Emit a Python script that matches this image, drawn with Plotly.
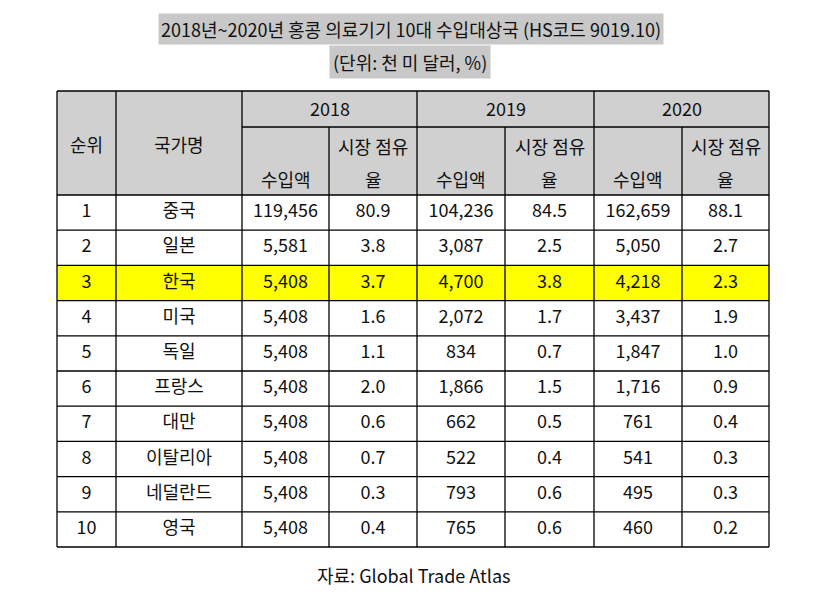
import plotly.graph_objects as go

# ---- data ----
ranks = ["1", "2", "3", "4", "5", "6", "7", "8", "9", "10"]
countries = ["중국", "일본", "한국", "미국", "독일", "프랑스", "대만", "이탈리아", "네덜란드", "영국"]
imp_2018 = [119456, 5581, 5408, 5408, 5408, 5408, 5408, 5408, 5408, 5408]
share_2018 = [80.9, 3.8, 3.7, 1.6, 1.1, 2.0, 0.6, 0.7, 0.3, 0.4]
imp_2019 = [104236, 3087, 4700, 2072, 834, 1866, 662, 522, 793, 765]
share_2019 = [84.5, 2.5, 3.8, 1.7, 0.7, 1.5, 0.5, 0.4, 0.6, 0.6]
imp_2020 = [162659, 5050, 4218, 3437, 1847, 1716, 761, 541, 495, 460]
share_2020 = [88.1, 2.7, 2.3, 1.9, 1.0, 0.9, 0.4, 0.3, 0.3, 0.2]
years = ["2018", "2019", "2020"]
title_text = "2018년~2020년 홍콩 의료기기 10대 수입대상국 (HS코드 9019.10)"
unit_text = "(단위: 천 미 달러, %)"
source_text = "자료: Global Trade Atlas"
highlight_row = 2

# ---- layout geometry (page pixels) ----
W, H = 821, 603
OFF = 8  # default page margin of the html body
col_x = [57, 116, 242, 329, 417, 505, 594, 682, 769]
top, year_bottom, head_bottom, bottom = 91, 127, 195, 547
n = len(ranks)
row_h = (bottom - head_bottom) / n
row_y = [head_bottom + i * row_h for i in range(n + 1)]

FONT = "Noto Sans CJK KR"
FS = 18
TXT = "#111111"
HEAD_BG = "#d0d0d0"
LINE = "#000000"

shapes = []
shapes.append(dict(type="rect", x0=col_x[0], x1=col_x[-1], y0=top, y1=head_bottom,
                   fillcolor=HEAD_BG, line=dict(width=0), layer="below"))
shapes.append(dict(type="rect", x0=col_x[0], x1=col_x[-1], y0=row_y[highlight_row],
                   y1=row_y[highlight_row + 1], fillcolor="#ffff00", line=dict(width=0), layer="below"))

def hline(y, x0, x1):
    shapes.append(dict(type="line", x0=x0, x1=x1, y0=y, y1=y, line=dict(color=LINE, width=1.3)))

def vline(x, y0, y1):
    shapes.append(dict(type="line", x0=x, x1=x, y0=y0, y1=y1, line=dict(color=LINE, width=1.3)))

hline(top, col_x[0], col_x[-1])
hline(year_bottom, col_x[2], col_x[-1])
for y in row_y:
    hline(y, col_x[0], col_x[-1])
for i, x in enumerate(col_x):
    if i in (3, 5, 7):
        vline(x, year_bottom, bottom)
    else:
        vline(x, top, bottom)

ann = []
def txt(x, y, s, size=FS, **kw):
    ann.append(dict(x=x, y=y, text=s, showarrow=False, xref="x", yref="y",
                    font=dict(family=FONT, size=size, color=TXT), **kw))

txt(411, 29, title_text, bgcolor="#c8c8c8", borderpad=2)
txt(410, 62, unit_text, bgcolor="#c8c8c8", borderpad=3)
txt(413, 575, source_text)

txt((col_x[0] + col_x[1]) / 2, 144, "순위")
txt((col_x[1] + col_x[2]) / 2, 144, "국가명")
for k, yr in enumerate(years):
    c0 = col_x[2 + 2 * k]
    c1 = col_x[3 + 2 * k]
    c2 = col_x[4 + 2 * k]
    txt((c0 + c2) / 2, 108, yr)
    txt((c0 + c1) / 2, 179, "수입액")
    txt((c1 + c2) / 2, 146, "시장 점유")
    txt((c1 + c2) / 2, 179, "율")

centers = [(row_y[i] + row_y[i + 1]) / 2 for i in range(n)]
columns = [
    ranks,
    countries,
    [f"{v:,}" for v in imp_2018],
    [f"{v:.1f}" for v in share_2018],
    [f"{v:,}" for v in imp_2019],
    [f"{v:.1f}" for v in share_2019],
    [f"{v:,}" for v in imp_2020],
    [f"{v:.1f}" for v in share_2020],
]
fig = go.Figure()
for j, col in enumerate(columns):
    xc = (col_x[j] + col_x[j + 1]) / 2
    fig.add_trace(go.Scatter(
        x=[xc] * n, y=centers, mode="text", text=col, textposition="middle center",
        textfont=dict(family=FONT, size=FS, color=TXT), hoverinfo="skip", showlegend=False))

fig.update_layout(
    width=W, height=H, margin=dict(l=0, r=0, t=0, b=0),
    paper_bgcolor="white", plot_bgcolor="white",
    xaxis=dict(range=[OFF, W + OFF], visible=False, fixedrange=True),
    yaxis=dict(range=[H + OFF, OFF], visible=False, fixedrange=True),
    shapes=shapes, annotations=ann,
)
fig.write_html("out.html")
